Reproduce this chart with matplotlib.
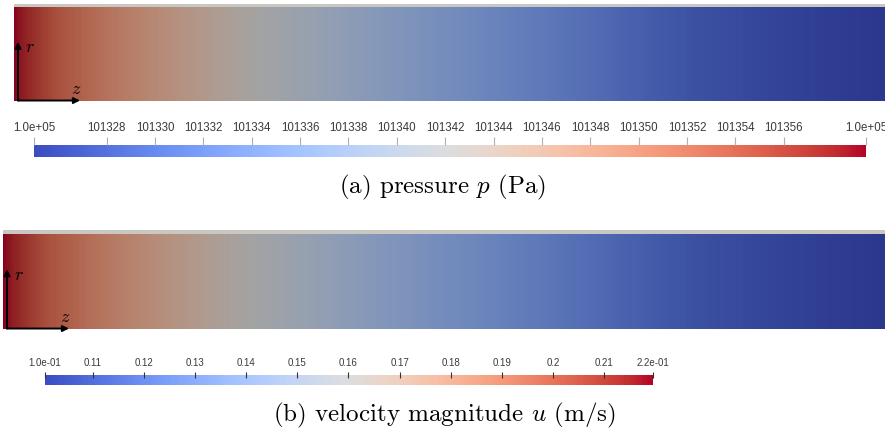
import numpy as np
import matplotlib
matplotlib.use('Agg')
import matplotlib.pyplot as plt
from matplotlib.colors import ListedColormap, Normalize
from matplotlib.cm import ScalarMappable

plt.rcParams['mathtext.fontset'] = 'cm'

# ---------------------------------------------------------
## datos (perfil axial, z normalizado 0..1)
z_pos = [0.0, 0.05, 0.10, 0.15, 0.20, 0.25, 0.30, 0.35, 0.40, 0.45, 0.50,
         0.55, 0.60, 0.65, 0.70, 0.75, 0.80, 0.85, 0.90, 0.95, 1.0]

presion = [101359.4, 101354.2, 101351.1, 101348.4, 101346.0, 101343.6, 101341.5,
           101339.8, 101338.1, 101336.7, 101335.3, 101333.9, 101332.6, 101331.2,
           101329.8, 101328.4, 101327.4, 101326.7, 101326.0, 101325.5, 101325.0]

velocidad = [0.2196, 0.2018, 0.1910, 0.1815, 0.1732, 0.1649, 0.1577, 0.1518,
             0.1458, 0.1411, 0.1363, 0.1315, 0.1268, 0.1220, 0.1173, 0.1125,
             0.1089, 0.1066, 0.1042, 0.1024, 0.1006]

# rangos de las barras de color
p_min, p_max = 101325.0, 101359.4
u_min, u_max = 0.1006, 0.2196

p_ticks = [101328, 101330, 101332, 101334, 101336, 101338, 101340, 101342,
           101344, 101346, 101348, 101350, 101352, 101354, 101356]
u_ticks = [0.11, 0.12, 0.13, 0.14, 0.15, 0.16, 0.17, 0.18, 0.19, 0.2, 0.21]
u_labels = ['0.11', '0.12', '0.13', '0.14', '0.15', '0.16', '0.17', '0.18',
            '0.19', '0.2', '0.21']
# ---------------------------------------------------------

W, H = 885, 432
fig = plt.figure(figsize=(W / 100, H / 100), dpi=100)


def caja(x0, y0, x1, y1):
    # pixeles (desde arriba) -> fraccion de figura
    return [x0 / W, 1 - y1 / H, (x1 - x0) / W, (y1 - y0) / H]


# la vista de paraview sale oscurecida por la iluminacion
cmap = plt.get_cmap('coolwarm')
cmap_sombra = ListedColormap(cmap(np.linspace(0, 1, 256))[:, :3] * 0.74)


def campo(rect, banda, valores, vmin, vmax):
    axb = fig.add_axes(banda)
    axb.set_facecolor('#c9c7c1')
    axb.set_xticks([])
    axb.set_yticks([])
    for s in axb.spines.values():
        s.set_visible(False)

    ax = fig.add_axes(rect)
    dz = z_pos[1] - z_pos[0]
    datos = np.array([valores, valores])
    ax.imshow(datos, cmap=cmap_sombra, vmin=vmin, vmax=vmax, aspect='auto',
              interpolation='bilinear', interpolation_stage='data',
              extent=(z_pos[0] - dz / 2, z_pos[-1] + dz / 2, 0, 1))
    ax.set_xlim(z_pos[0], z_pos[-1])
    ax.set_ylim(0, 1)
    ax.set_xticks([])
    ax.set_yticks([])
    for s in ax.spines.values():
        s.set_visible(False)

    # ejes r - z
    ancho = rect[2] * W
    alto = rect[3] * H
    x0 = 4 / ancho
    flecha = dict(arrowstyle='-|>', color='k', lw=1.4, mutation_scale=9,
                  shrinkA=0, shrinkB=0)
    ax.annotate('', xy=(x0, 0.63), xytext=(x0, 0.005), xycoords='axes fraction',
                arrowprops=flecha, annotation_clip=False)
    ax.annotate('', xy=(66 / ancho, 0.005), xytext=(x0, 0.005), xycoords='axes fraction',
                arrowprops=flecha, annotation_clip=False)
    ax.text(x0 + 12 / ancho, 0.57, '$r$', transform=ax.transAxes, fontsize=13,
            ha='center', va='center', color='k')
    ax.text(62 / ancho, 3 / alto, '$z$', transform=ax.transAxes, fontsize=13,
            ha='center', va='bottom', color='k')
    return ax


def barra(rect, vmin, vmax, ticks, labels, size, largo, color_tick, direc, pad):
    cax = fig.add_axes(rect)
    sm = ScalarMappable(norm=Normalize(vmin, vmax), cmap=cmap)
    cb = fig.colorbar(sm, cax=cax, orientation='horizontal', ticklocation='top')
    cb.outline.set_visible(False)
    cb.set_ticks(ticks, labels=labels)
    cax.tick_params(axis='x', length=largo, width=0.8, color=color_tick,
                    direction=direc, labelsize=size, labelcolor='#3a3a3a', pad=pad)
    for t in cax.get_xticklabels():
        t.set_fontfamily('Liberation Sans')
    cax.minorticks_off()
    return cb


# (a) presion
campo(caja(14, 7, 885, 101), caja(14, 4, 885, 7), presion, p_min, p_max)
barra(caja(34, 145, 866, 157), p_min, p_max,
      [p_min] + p_ticks + [p_max],
      ['1.0e+05'] + [str(t) for t in p_ticks] + ['1.0e+05'],
      8.3, 5.8, '#b0b0b0', 'out', 2.2)
fig.text(443 / W, 1 - 187 / H, '(a) pressure $p$ (Pa)', fontfamily='cmr10',
         fontsize=18, ha='center', va='center')

# (b) velocidad
campo(caja(3, 234, 885, 329), caja(3, 230, 885, 234), velocidad, u_min, u_max)
barra(caja(45, 375, 653, 385), u_min, u_max,
      [u_min] + u_ticks + [u_max],
      ['1.0e-01'] + u_labels + ['2.2e-01'],
      7.0, 4.3, '#333333', 'inout', 3.0)
fig.text(444 / W, 1 - 415 / H, '(b) velocity magnitude $u$ (m/s)', fontfamily='cmr10',
         fontsize=18, ha='center', va='center')

fig.savefig('out.png', dpi=100)
